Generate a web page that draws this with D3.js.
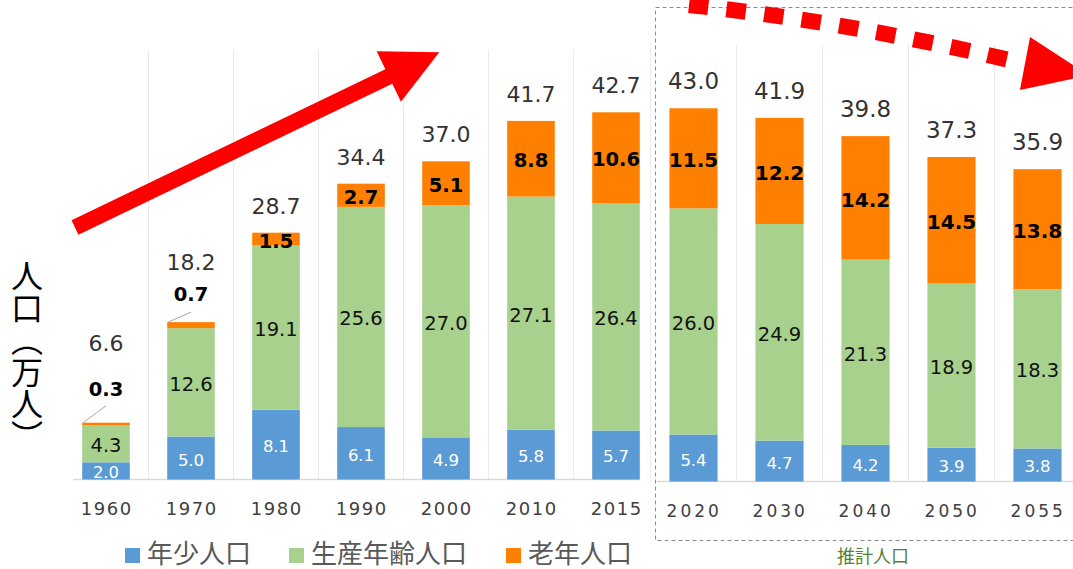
<!DOCTYPE html>
<html lang="ja">
<head>
    <meta charset="UTF-8">
    <title>人口推移</title>
    <script src="https://d3js.org/d3.v7.min.js"></script>
    <style>
        body { margin: 0; background: #fff; }
        .num { font-family: "DejaVu Sans", sans-serif; text-anchor: middle; }
        .total { fill: #333; }
        .seg-young { fill: #fff; font-size: 16.5px; }
        .seg-working { fill: #111; font-size: 19.5px; }
        .seg-elderly { fill: #000; font-size: 19.5px; font-weight: bold; }
        .tick { fill: #404040; font-size: 18px; letter-spacing: 1.5px; }
        .jp { font-family: "Noto Sans CJK JP", sans-serif; }
    </style>
</head>
<body>
<script>
    // data (万人)
    let pastYears = ["1960", "1970", "1980", "1990", "2000", "2010", "2015"];
    let futureYears = ["2020", "2030", "2040", "2050", "2055"];
    let young = [2.0, 5.0, 8.1, 6.1, 4.9, 5.8, 5.7, 5.4, 4.7, 4.2, 3.9, 3.8];
    let working = [4.3, 12.6, 19.1, 25.6, 27.0, 27.1, 26.4, 26.0, 24.9, 21.3, 18.9, 18.3];
    let elderly = [0.3, 0.7, 1.5, 2.7, 5.1, 8.8, 10.6, 11.5, 12.2, 14.2, 14.5, 13.8];
    let totals = [6.6, 18.2, 28.7, 34.4, 37.0, 41.7, 42.7, 43.0, 41.9, 39.8, 37.3, 35.9];
    let seriesNames = ["年少人口", "生産年齢人口", "老年人口"];

    let width = 1073;
    let height = 569;
    let keys = ["young", "working", "elderly"];
    let colors = {young: "#5B9BD5", working: "#A9D18E", elderly: "#FF8000"};

    let svg = d3.select("body").append("svg")
        .attr("width", width)
        .attr("height", height);

    let years = pastYears.concat(futureYears);
    let rows = years.map((yr, i) => ({
        year: yr, young: young[i], working: working[i], elderly: elderly[i], total: totals[i]
    }));

    // small elderly values get a callout above the bar (layout only)
    let callout = {
        "1960": {leader: 17, label: 27, total: 72},
        "1970": {leader: 10, label: 21, total: 52}
    };

    function drawPanel(panelRows, x, y, opt) {
        let g = svg.append("g");
        let base = y(0);

        // vertical grid lines
        opt.grid.forEach(gx =>
            g.append("line")
                .attr("x1", gx).attr("x2", gx)
                .attr("y1", opt.gridTop).attr("y2", base)
                .attr("stroke", "#EBEBEB")
        );

        g.append("line")
            .attr("x1", opt.axisFrom).attr("x2", opt.axisTo)
            .attr("y1", base).attr("y2", base)
            .attr("stroke", "#D9D9D9")
            .attr("stroke-width", 1.5);

        let stacked = d3.stack().keys(keys)(panelRows);

        g.selectAll("g.series")
            .data(stacked)
            .join("g")
            .attr("fill", d => colors[d.key])
            .selectAll("rect")
            .data(d => d)
            .join("rect")
            .attr("x", d => x(d.data.year))
            .attr("width", x.bandwidth())
            .attr("y", d => y(d[1]))
            .attr("height", d => y(d[0]) - y(d[1]));

        // clip so labels never cross the axis line
        let clipId = "clip" + opt.id;
        svg.append("clipPath").attr("id", clipId)
            .append("rect")
            .attr("x", 0).attr("y", 0)
            .attr("width", width).attr("height", base);

        let labels = g.append("g").attr("clip-path", "url(#" + clipId + ")");

        stacked.forEach(s => {
            s.forEach(d => {
                let cx = x(d.data.year) + x.bandwidth() / 2;
                let v = d.data[s.key];
                let co = callout[d.data.year];
                if (s.key === "elderly" && co) {
                    let top = y(d[1]);
                    labels.append("line")
                        .attr("x1", x(d.data.year) + 1).attr("y1", top)
                        .attr("x2", cx).attr("y2", top - co.leader)
                        .attr("stroke", "#A6A6A6");
                    labels.append("text")
                        .attr("class", "num seg-elderly")
                        .attr("x", cx).attr("y", top - co.label)
                        .text(v.toFixed(1));
                    return;
                }
                labels.append("text")
                    .attr("class", "num seg-" + s.key)
                    .attr("x", cx)
                    .attr("y", (y(d[0]) + y(d[1])) / 2 + 2)
                    .attr("dominant-baseline", "central")
                    .style("font-size", s.key === "elderly" ? opt.elderlySize : null)
                    .text(v.toFixed(1));
            });
        });

        // totals above bars
        let top = stacked[stacked.length - 1];
        top.forEach(d => {
            let co = callout[d.data.year];
            g.append("text")
                .attr("class", "num total")
                .attr("x", x(d.data.year) + x.bandwidth() / 2)
                .attr("y", y(d[1]) - (co ? co.total : 19))
                .style("font-size", opt.totalSize)
                .text(d.data.total.toFixed(1));
        });

        // category labels
        panelRows.forEach(r => {
            g.append("text")
                .attr("class", "num tick")
                .attr("x", x(r.year) + x.bandwidth() / 2 + 0.75)
                .attr("y", opt.tickY)
                .style("letter-spacing", opt.tickSpacing)
                .style("font-size", opt.tickSize)
                .text(r.year);
        });
    }

    // left panel: actual figures
    let xPast = d3.scaleBand().domain(pastYears).range([63.5, 658.5])
        .paddingInner(0.44).paddingOuter(0.22);
    let yPast = d3.scaleLinear().domain([0, 50]).range([479.5, 479.5 - 430]);

    // right panel: projections
    let xFuture = d3.scaleBand().domain(futureYears).range([650.5, 1080.5])
        .paddingInner(0.44).paddingOuter(0.22);
    let yFuture = d3.scaleLinear().domain([0, 50]).range([481.5, 481.5 - 435]);

    let pastGrid = d3.range(1, pastYears.length).map(i => xPast.range()[0] + xPast.step() * i);
    let futureGrid = d3.range(0, futureYears.length).map(i => xFuture.range()[0] + xFuture.step() * i);

    drawPanel(rows.slice(0, pastYears.length), xPast, yPast, {
        id: "past", grid: pastGrid, gridTop: 50, axisFrom: 73, axisTo: 640,
        totalSize: "22px", elderlySize: "19.5px", tickY: 515, tickSize: "18px", tickSpacing: "1.5px"
    });
    drawPanel(rows.slice(pastYears.length), xFuture, yFuture, {
        id: "future", grid: futureGrid, gridTop: 45, axisFrom: 657, axisTo: 1073,
        totalSize: "23px", elderlySize: "20px", tickY: 517, tickSize: "17px", tickSpacing: "3px"
    });

    // dashed box around the projection
    svg.append("rect")
        .attr("x", 655.5).attr("y", 7.5)
        .attr("width", 440).attr("height", 533)
        .attr("fill", "none")
        .attr("stroke", "#8C8C8C")
        .attr("stroke-dasharray", "4 3");

    svg.append("text")
        .attr("class", "jp")
        .attr("x", 873).attr("y", 563)
        .attr("text-anchor", "middle")
        .attr("fill", "#548235")
        .style("font-size", "18px")
        .text("推計人口");

    // y axis title, vertical
    svg.append("text")
        .attr("class", "jp")
        .attr("x", 27).attr("y", 260)
        .style("writing-mode", "vertical-rl")
        .style("font-size", "32px")
        .attr("fill", "#000")
        .text("人口（万人）");

    // legend
    let legendX = [125, 289, 506];
    seriesNames.forEach((name, i) => {
        svg.append("rect")
            .attr("x", legendX[i]).attr("y", 548)
            .attr("width", 15).attr("height", 15)
            .attr("fill", colors[keys[i]]);
        svg.append("text")
            .attr("class", "jp")
            .attr("x", legendX[i] + 22).attr("y", 562.5)
            .attr("fill", "#595959")
            .style("font-size", "26px")
            .text(name);
    });

    // rising arrow
    let start = [75, 227.5], tip = [439.3, 52.3];
    let len = Math.hypot(tip[0] - start[0], tip[1] - start[1]);
    let u = [(tip[0] - start[0]) / len, (tip[1] - start[1]) / len];
    let n = [-u[1], u[0]];
    let headLen = 56, headHalf = 28, shaftHalf = 8;
    let b = [tip[0] - u[0] * headLen, tip[1] - u[1] * headLen];
    let pt = (p, k) => [p[0] + n[0] * k, p[1] + n[1] * k];
    svg.append("path")
        .attr("d", d3.line()([pt(start, -shaftHalf), pt(b, -shaftHalf), pt(b, -headHalf), tip,
            pt(b, headHalf), pt(b, shaftHalf), pt(start, shaftHalf)]) + "Z")
        .attr("fill", "#FF0000");

    // falling dotted arrow
    svg.append("path")
        .attr("d", "M689,5 Q850,22 1022,63")
        .attr("fill", "none")
        .attr("stroke", "#FF0000")
        .attr("stroke-width", 16)
        .attr("stroke-dasharray", "19.5 18.4");
    svg.append("path")
        .attr("d", d3.line()([[1030, 37], [1089, 75.5], [1020, 90]]) + "Z")
        .attr("fill", "#FF0000");
</script>
</body>
</html>
